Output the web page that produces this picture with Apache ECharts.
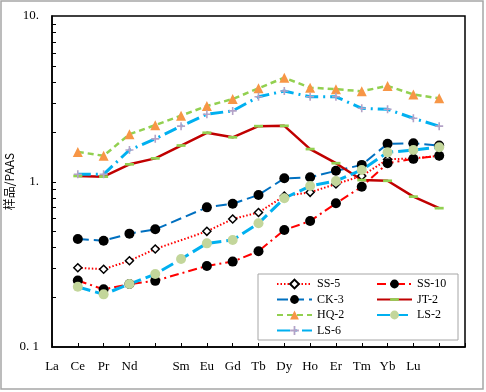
<!DOCTYPE html>
<html>
<head>
<meta charset="utf-8">
<script src="https://cdn.jsdelivr.net/npm/echarts@6/dist/echarts.min.js"></script>
<style>
  html, body { margin: 0; padding: 0; background: #fff; }
  #chart { width: 486px; height: 392px; }
</style>
</head>
<body>
<div id="chart"></div>
<script>
// x 轴类别（首尾为空位）
const categories = ['La', 'Ce', 'Pr', 'Nd', '', 'Sm', 'Eu', 'Gd', 'Tb', 'Dy', 'Ho', 'Er', 'Tm', 'Yb', 'Lu', ' ', '  '];
const yTickLabels = { 0.1: '0. 1', 1: '1.', 10: '10.' };

// 各样品值（从第二个类别位置开始，共 15 个）
const ss5 = [0.301, 0.295, 0.332, 0.391, null, 0.500, 0.593, 0.650, 0.817, 0.860, 0.966, 1.08, 1.36, 1.38, 1.43];
const ss10 = [0.252, 0.223, 0.240, 0.251, null, 0.309, 0.328, 0.379, 0.509, 0.577, 0.738, 0.930, 1.29, 1.37, 1.43];
const ck3 = [0.449, 0.439, 0.484, 0.514, null, 0.698, 0.734, 0.829, 1.045, 1.06, 1.16, 1.26, 1.69, 1.70, 1.65];
const jt2 = [1.08, 1.07, 1.27, 1.38, 1.65, 1.97, 1.85, 2.16, 2.17, 1.57, 1.29, 1.02, 1.01, 0.81, 0.69];
const hq2 = [1.51, 1.43, 1.93, 2.19, 2.50, 2.86, 3.15, 3.66, 4.24, 3.69, 3.61, 3.51, 3.78, 3.36, 3.18];
const ls2 = [0.231, 0.208, 0.240, 0.276, 0.340, 0.423, 0.443, 0.559, 0.792, 0.939, 1.007, 1.174, 1.50, 1.55, 1.61];
const ls6 = [1.105, 1.105, 1.55, 1.81, 2.16, 2.55, 2.67, 3.25, 3.52, 3.25, 3.25, 2.77, 2.73, 2.41, 2.16];

const pad = arr => [null, ...arr, null];

const FONT = '"Liberation Serif", "Noto Sans CJK SC", serif';
const barSymbol = 'path://M0,0M10,10M0,3.5h10v3h-10z';
const plusSymbol = 'path://M4,0h2v4h4v2h-4v4h-2v-4h-4v-2h4z';

// 对数轴刻度：每个十进位的 2..9 以及 1
const minorVals = [];
[0.1, 1].forEach(d => { for (let k = 2; k <= 9; k++) minorVals.push(+(d * k).toFixed(2)); });
minorVals.push(1);

const GRID_LEFT = 52;

const chart = echarts.init(document.getElementById('chart'));

const baseGraphic = [
  {
    type: 'rect', z: -1,
    shape: { x: 1, y: 1, width: 482, height: 388 },
    style: { fill: 'none', stroke: '#a6a6a6', lineWidth: 1.5 },
  },
  {
    type: 'rect', z: 0,
    shape: { x: 258, y: 274, width: 200, height: 66 },
    style: { fill: '#fff', stroke: '#a6a6a6', lineWidth: 1 },
  },
];

const option = {
  animation: false,
  backgroundColor: '#fff',
  grid: {
    left: GRID_LEFT, top: 16, right: 21, bottom: 45,
    containLabel: false,
    outerBoundsMode: 'none',
    show: true, borderColor: '#000', borderWidth: 1.5,
  },
  legend: [
    {
      orient: 'vertical', left: 276, top: 278, padding: 0,
      itemWidth: 35, itemHeight: 11, itemGap: 3.5,
      data: ['SS-5', 'CK-3', 'HQ-2', 'LS-6'],
      textStyle: { fontFamily: FONT, fontSize: 12, lineHeight: 12, color: '#000' },
    },
    {
      orient: 'vertical', left: 376, top: 278, padding: 0,
      itemWidth: 35, itemHeight: 11, itemGap: 3.5,
      data: ['SS-10', 'JT-2', 'LS-2'],
      textStyle: { fontFamily: FONT, fontSize: 12, lineHeight: 12, color: '#000' },
    },
  ],
  graphic: baseGraphic,
  xAxis: {
    type: 'category',
    boundaryGap: false,
    data: categories,
    axisLine: { lineStyle: { color: '#000', width: 1.5 } },
    axisTick: { inside: true, length: 4, interval: 0, lineStyle: { color: '#000' } },
    axisLabel: { interval: 0, margin: 13, color: '#000', fontFamily: FONT, fontSize: 13 },
    splitLine: { show: false },
  },
  yAxis: {
    type: 'log',
    logBase: 10,
    min: 0.1,
    max: 10,
    name: '样品/PAAS',
    nameLocation: 'middle',
    nameGap: 37,
    nameMoveOverlap: false,
    nameTextStyle: { color: '#000', fontFamily: '"Noto Sans CJK SC", sans-serif', fontSize: 12 },
    axisLine: { show: true, lineStyle: { color: '#000', width: 1.5 } },
    axisTick: { show: false },
    axisLabel: {
      margin: 13, color: '#000', fontFamily: FONT, fontSize: 13,
      formatter: v => yTickLabels[v] !== undefined ? yTickLabels[v] : '',
    },
    splitLine: { show: false },
  },
  series: [
    {
      name: 'SS-5', type: 'line', data: pad(ss5), connectNulls: true,
      symbol: 'diamond', symbolSize: 8,
      itemStyle: { color: '#fff', borderColor: '#000', borderWidth: 1.5 },
      lineStyle: { color: '#ff0000', width: 2, type: [1.5, 2] },
    },
    {
      name: 'SS-10', type: 'line', data: pad(ss10), connectNulls: true,
      symbol: 'circle', symbolSize: 10,
      itemStyle: { color: '#000' },
      lineStyle: { color: '#ff0000', width: 2, type: [9, 4, 2, 4] },
    },
    {
      name: 'CK-3', type: 'line', data: pad(ck3), connectNulls: true,
      symbol: 'circle', symbolSize: 10,
      itemStyle: { color: '#000' },
      lineStyle: { color: '#0070c0', width: 2, type: [11, 5] },
    },
    {
      name: 'JT-2', type: 'line', data: pad(jt2),
      symbol: barSymbol, symbolSize: 9,
      itemStyle: { color: '#92d050' },
      lineStyle: { color: '#c00000', width: 2.5, type: 'solid' },
    },
    {
      name: 'HQ-2', type: 'line', data: pad(hq2),
      symbol: 'triangle', symbolSize: 10,
      itemStyle: { color: '#f79646' },
      lineStyle: { color: '#92d050', width: 2.5, type: [6, 4] },
    },
    {
      name: 'LS-2', type: 'line', data: pad(ls2),
      symbol: 'circle', symbolSize: 10,
      itemStyle: { color: '#c3d69b' },
      lineStyle: { color: '#00b0f0', width: 3, type: [13, 5] },
    },
    {
      name: 'LS-6', type: 'line', data: pad(ls6),
      symbol: plusSymbol, symbolSize: 8,
      itemStyle: { color: '#b3a2c7' },
      lineStyle: { color: '#00b0f0', width: 3, type: [13, 5, 2, 5] },
    },
  ],
};

chart.setOption(option);

// y 轴刻度线（内侧），位置由对数轴换算
const tickGraphic = minorVals.map(v => {
  const y = Math.round(chart.convertToPixel({ yAxisIndex: 0 }, v)) + 0.5;
  return {
    type: 'line', z: 10,
    shape: { x1: GRID_LEFT, y1: y, x2: GRID_LEFT + 4, y2: y },
    style: { stroke: '#000', lineWidth: 1 },
  };
});
chart.setOption({ graphic: baseGraphic.concat(tickGraphic) });
</script>
</body>
</html>
